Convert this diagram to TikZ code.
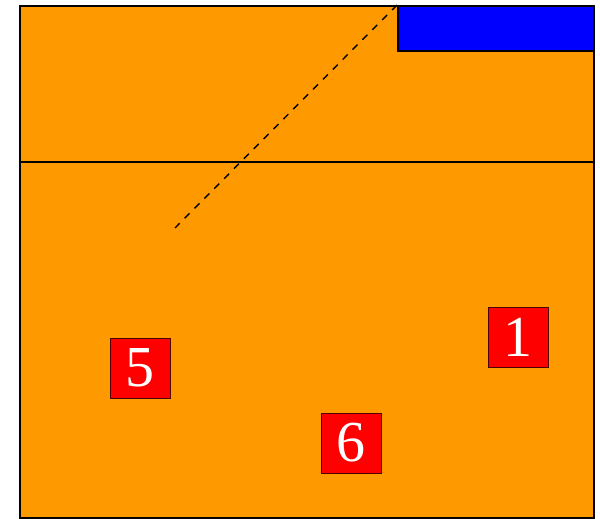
\documentclass[tikz,border=0pt]{standalone}
\usepackage{fontspec}
\setmainfont{Liberation Serif}
\usepackage{tikz}
\usetikzlibrary{positioning,calc}

\begin{document}
\begin{tikzpicture}[
  x=1pt,y=-1pt,
  field/.style={draw, line width=2pt, fill=fieldorange, anchor=north west, inner sep=0pt},
  tag/.style={draw=black!70!red, line width=0.8pt, fill=red, text=white, minimum size=60pt, inner sep=0pt, font=\fontsize{58}{58}\selectfont},
  band/.style={draw, line width=1.6pt, fill=blue, anchor=north west, inner sep=0pt, minimum width=196pt, minimum height=45pt}
]
\definecolor{fieldorange}{RGB}{255,153,0}
\useasboundingbox (0,0) rectangle (600,519);
\node[field, minimum width=574pt, minimum height=512pt] (field) at (19,5) {};
\node[band] (band) at (397,5) {};
\coordinate (cut) at (19,162);
\draw[line width=2pt] (cut) -- (cut -| field.east);
\coordinate (tip) at (175,228);
\draw[dashed, dash pattern=on 7pt off 7pt, line width=1.4pt] (band.north west) -- (tip);
\node[tag] (t5) at (140,368) {5};
\node[tag] (t1) at (518,337) {1};
\node[tag] (t6) at (351,443) {6};
\end{tikzpicture}
\end{document}
